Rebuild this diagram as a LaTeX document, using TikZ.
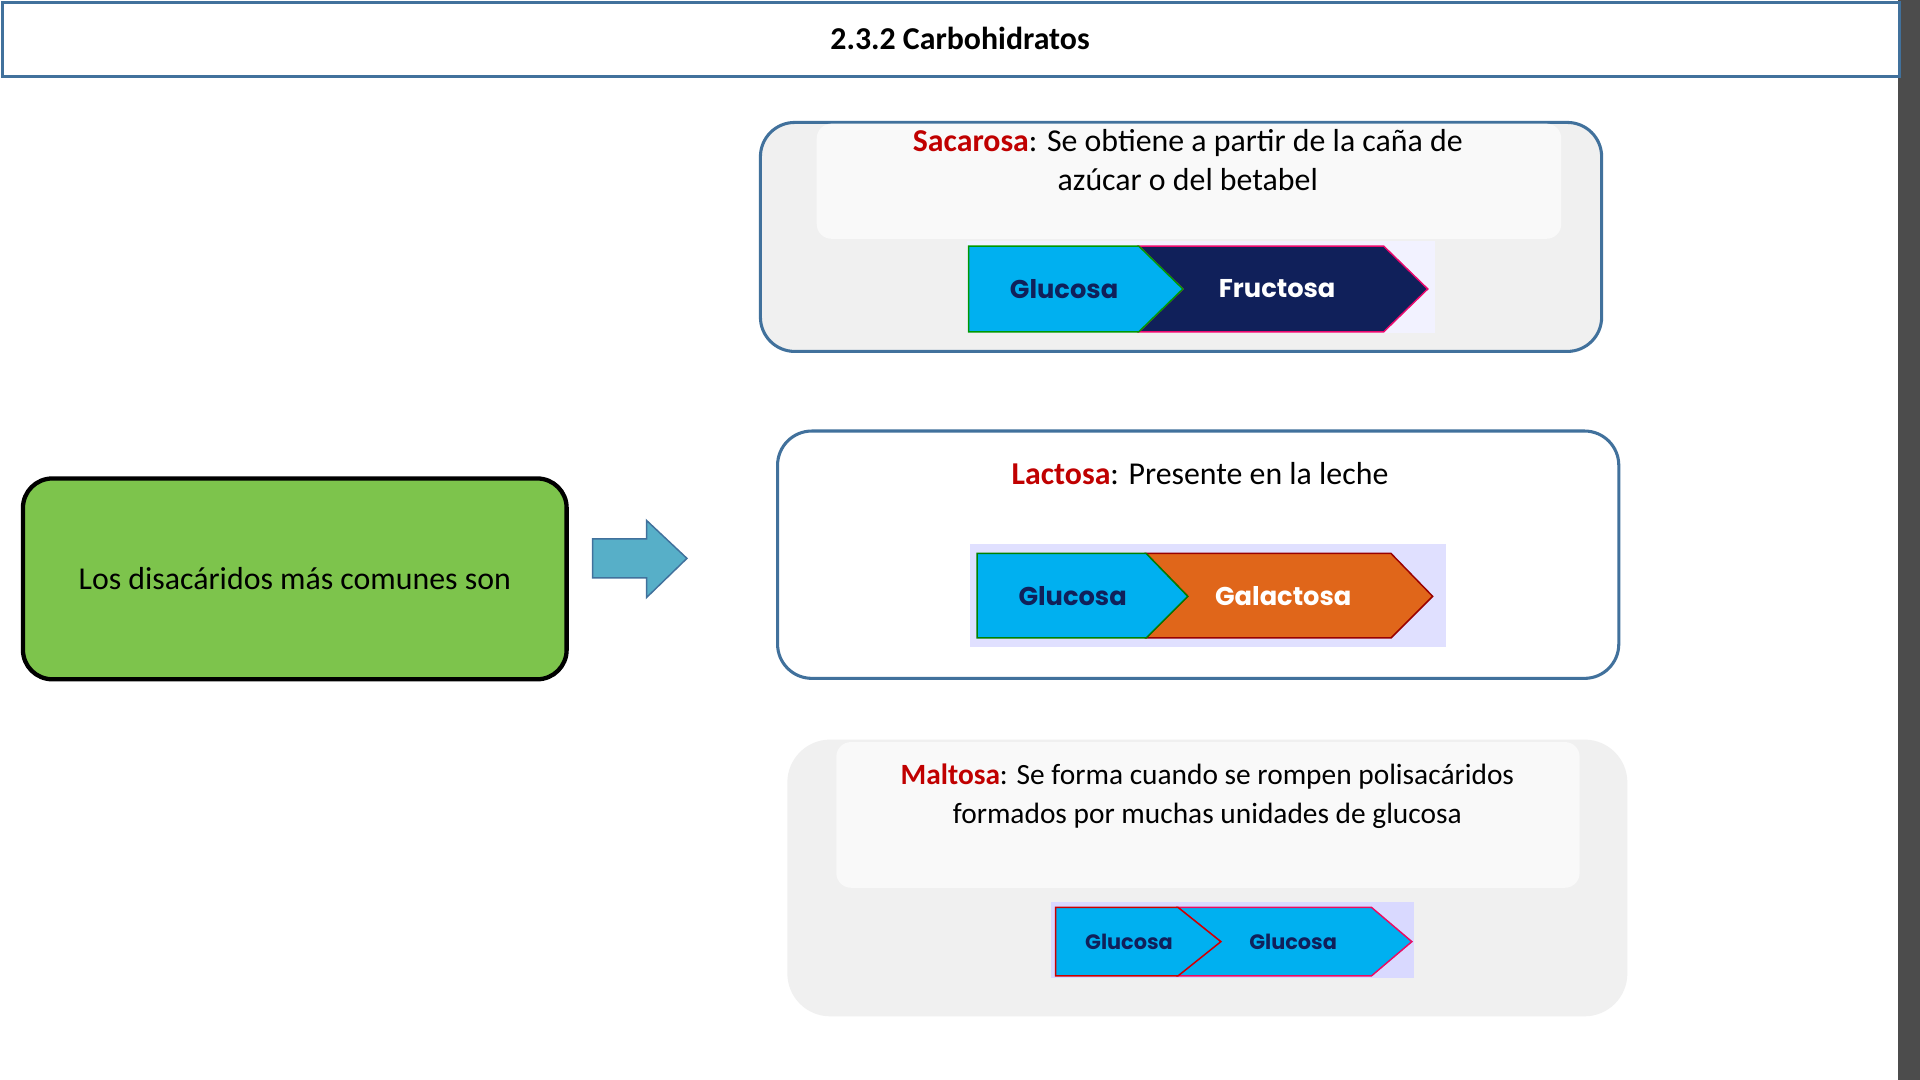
\documentclass[tikz,border=0pt]{standalone}
\usepackage{fontspec}
\setmainfont{Carlito}
\newfontfamily\chev{Poppins}
\definecolor{frame}{HTML}{41719C}
\definecolor{cyanc}{HTML}{00B0F0}
\definecolor{navy}{HTML}{10205A}
\definecolor{orangec}{HTML}{E0661A}
\definecolor{redt}{HTML}{C00000}
\definecolor{greenb}{HTML}{7DC44C}
\begin{document}
\begin{tikzpicture}[x=1pt,y=-1pt,
  box/.style={draw=frame,line width=2.5pt,rounded corners=28pt},
  inner/.style={fill=white!60!gray!10,rounded corners=12pt},
  txt/.style={font=\fontsize{26}{32}\selectfont,align=center},
  ctxt/.style={font=\chev\bfseries\fontsize{21}{24}\selectfont},
  stxt/.style={font=\chev\bfseries\fontsize{17}{20}\selectfont}]
\useasboundingbox (0,0) rectangle (1568,882);
\fill[white] (0,0) rectangle (1568,882);
\fill[black!70] (1550,0) rectangle (1568,882);
% title
\node[draw=frame,line width=2.5pt,minimum width=1549pt,minimum height=60pt,anchor=north west] (title) at (1,1) {};
\node[font=\bfseries\fontsize{26}{30}\selectfont] (tt) at (784,31) {2.3.2 Carbohidratos};
% green box
\node[draw=black,line width=3.5pt,fill=greenb,rounded corners=24pt,minimum width=444pt,minimum height=164pt,anchor=north west,txt] (g) at (17,389) {Los disacáridos más comunes son};
% arrow
\draw[fill=frame!70!cyan!80,draw=frame,line width=1.2pt] (484,440) -- (528,440) -- (528,425) -- (561,456) -- (528,488) -- (528,472) -- (484,472) -- cycle;
% box 1
\draw[box,fill=gray!12] (621,100) rectangle (1308,287);
\fill[inner,fill=gray!5] (667,101) rectangle (1275,195);
\node[txt] (s) at (970,131) {\textcolor{redt}{\textbf{Sacarosa}}: Se obtiene a partir de la caña de\\ azúcar o del betabel};
\fill[blue!5] (790,197) rectangle (1172,272);
\draw[fill=navy,draw=magenta!70!red,line width=1.2pt] (930,201) -- (1130,201) -- (1166,236) -- (1130,271) -- (930,271) -- (966,236) -- cycle;
\draw[fill=cyanc,draw=green!60!black,line width=1.2pt] (791,201) -- (930,201) -- (966,236) -- (930,271) -- (791,271) -- cycle;
\node[ctxt,text=navy] (g1) at (869,236) {Glucosa};
\node[ctxt,text=white] (f1) at (1043,236) {Fructosa};
% box 2
\draw[box,fill=white] (635,352) rectangle (1322,554);
\node[txt] (l) at (980,387) {\textcolor{redt}{\textbf{Lactosa}}: Presente en la leche};
\fill[blue!12] (792,444) rectangle (1181,528);
\draw[fill=orangec,draw=red!60!black,line width=1.2pt] (936,452) -- (1136,452) -- (1170,487) -- (1136,521) -- (936,521) -- (970,487) -- cycle;
\draw[fill=cyanc,draw=green!50!black,line width=1.2pt] (798,452) -- (936,452) -- (970,487) -- (936,521) -- (798,521) -- cycle;
\node[ctxt,text=navy] (g2) at (876,487) {Glucosa};
\node[ctxt,text=white] (ga) at (1048,487) {Galactosa};
% box 3
\fill[gray!12,rounded corners=35pt] (643,604) rectangle (1329,830);
\fill[inner,fill=gray!5] (683,606) rectangle (1290,725);
\node[txt,font=\fontsize{24}{32}\selectfont] (m) at (986,650) {\textcolor{redt}{\textbf{Maltosa}}: Se forma cuando se rompen polisacáridos\\ formados por muchas unidades de glucosa};
\fill[blue!15] (858,737) rectangle (1155,799);
\draw[fill=cyanc,draw=magenta!60!red,line width=1.2pt] (962,741) -- (1120,741) -- (1153,769) -- (1120,797) -- (962,797) -- (997,769) -- cycle;
\draw[fill=cyanc,draw=red!80!black,line width=1.2pt] (862,741) -- (962,741) -- (997,769) -- (962,797) -- (862,797) -- cycle;
\node[stxt,text=navy] (g3) at (922,769) {Glucosa};
\node[stxt,text=navy] (g4) at (1056,769) {Glucosa};
\end{tikzpicture}
\end{document}
